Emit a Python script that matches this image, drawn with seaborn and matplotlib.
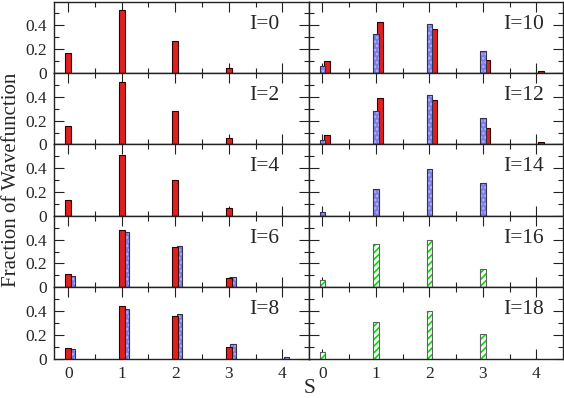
import numpy as np
import pandas as pd
import seaborn as sns
import matplotlib.pyplot as plt
from matplotlib import font_manager
from matplotlib.ticker import MultipleLocator, FixedLocator, FuncFormatter

spins = [0, 1, 2, 3, 4]

# fractions, one list per bar series
i0_red = [0.170, 0.530, 0.266, 0.046, 0.0]
i2_red = [0.153, 0.525, 0.280, 0.050, 0.0]
i4_red = [0.136, 0.514, 0.305, 0.062, 0.0]
i6_red = [0.108, 0.480, 0.336, 0.079, 0.003]
i6_blue = [0.093, 0.466, 0.347, 0.090, 0.004]
i8_red = [0.093, 0.446, 0.362, 0.097, 0.0]
i8_blue = [0.080, 0.418, 0.379, 0.125, 0.012]
i10_blue = [0.057, 0.330, 0.410, 0.186, 0.0]
i10_red = [0.097, 0.430, 0.368, 0.110, 0.015]
i12_blue = [0.040, 0.280, 0.418, 0.220, 0.0]
i12_red = [0.079, 0.390, 0.373, 0.136, 0.020]
i14_blue = [0.034, 0.229, 0.396, 0.277, 0.0]
i16_green = [0.059, 0.362, 0.400, 0.153, 0.0]
i18_green = [0.057, 0.310, 0.400, 0.207, 0.0]

left_labels = ["I=0", "I=2", "I=4", "I=6", "I=8"]
right_labels = ["I=10", "I=12", "I=14", "I=16", "I=18"]

sns.set_style("ticks")

# times-like serif: Liberation Serif if it is there, else matplotlib's STIX
serif = "STIXGeneral"
for name in ["Liberation Serif", "Times New Roman", "Nimbus Roman", "TeX Gyre Termes"]:
    try:
        font_manager.findfont(name, fallback_to_default=False)
        serif = name
        break
    except Exception:
        pass
plt.rcParams["font.family"] = [serif, "DejaVu Serif"]
plt.rcParams["hatch.linewidth"] = 1.2

RED = dict(face="#ff0000", hatch=None, hatchcol="#ff0000", edge="#300000")
BLUE = dict(face="#6e6ef2", hatch="....", hatchcol="#b4b4ff", edge="#303050")
GREEN = dict(face="white", hatch="/////", hatchcol="#00e000", edge="#606060")

panels = [
    [(i0_red, RED)],
    [(i2_red, RED)],
    [(i4_red, RED)],
    [(i6_red, RED), (i6_blue, BLUE)],
    [(i8_red, RED), (i8_blue, BLUE)],
    [(i10_blue, BLUE), (i10_red, RED)],
    [(i12_blue, BLUE), (i12_red, RED)],
    [(i14_blue, BLUE)],
    [(i16_green, GREEN)],
    [(i18_green, GREEN)],
]
labels = left_labels + right_labels


def draw(ax, values, style, shift, z):
    df = pd.DataFrame({"S": np.array(spins) + shift, "frac": values})
    sns.barplot(data=df, x="S", y="frac", ax=ax, native_scale=True, width=0.105,
                errorbar=None, color=style["face"], edgecolor=style["hatchcol"],
                hatch=style["hatch"], linewidth=0, zorder=z)
    sns.barplot(data=df, x="S", y="frac", ax=ax, native_scale=True, width=0.105,
                errorbar=None, fill=False, color=style["edge"], linewidth=0.8,
                zorder=z + 0.1)


fig, axes = plt.subplots(5, 2, figsize=(5.64, 3.98), dpi=100)
fig.subplots_adjust(left=0.0963, right=0.9977, top=0.996, bottom=0.0987,
                    hspace=0, wspace=0)

for k, series in enumerate(panels):
    ax = axes[k % 5, k // 5]
    # second series sits a bit to the right, behind the first
    for j, (vals, st) in reversed(list(enumerate(series))):
        draw(ax, vals, st, 0.08 * j, 1.3 - 0.3 * j)
    ax.set_xlim(-0.26, 4.49)
    ax.set_ylim(0, 0.6)
    ax.xaxis.set_major_locator(MultipleLocator(1))
    ax.xaxis.set_minor_locator(MultipleLocator(0.5))
    ax.yaxis.set_major_locator(FixedLocator([0, 0.2, 0.4]))
    ax.yaxis.set_minor_locator(FixedLocator([0.1, 0.3, 0.5]))
    ax.yaxis.set_major_formatter(FuncFormatter(lambda v, p: f"{v:g}"))
    ax.tick_params(which="both", direction="in", top=True, right=True,
                   width=0.8, color="#222222", labelsize=12.5, pad=5)
    ax.tick_params(which="major", length=7)
    ax.tick_params(which="minor", length=3.5)
    for sp in ax.spines.values():
        sp.set_linewidth(1.0)
        sp.set_color("#222222")
    ax.set_xlabel("")
    ax.set_ylabel("")
    if k % 5 != 4:
        ax.tick_params(labelbottom=False)
    if k >= 5:
        ax.tick_params(labelleft=False)
    ax.text(0.767, 0.685, labels[k], transform=ax.transAxes, ha="left",
            va="center", fontsize=15.5)

fig.text(0.549, 0.025, "S", ha="center", va="center", fontsize=15.5)
fig.text(0.021, 0.548, "Fraction of Wavefunction", rotation=90, ha="center",
         va="center", fontsize=15)

fig.savefig("out.png", dpi=100)
